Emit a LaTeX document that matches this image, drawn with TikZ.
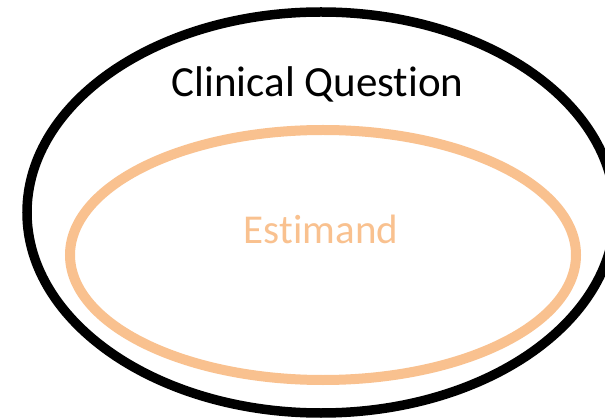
\documentclass[tikz,border=0pt]{standalone}
\usepackage{fontspec}
\setmainfont{Carlito}[RawFeature={-liga;-dlig;-clig}]
\definecolor{peach}{HTML}{F9C18F}
\tikzset{
  outerring/.style={draw=black,line width=9.5pt},
  innerring/.style={draw=peach,line width=10pt},
  lbl/.style={anchor=base,inner sep=0pt}
}
\begin{document}
\begin{tikzpicture}[x=1pt,y=1pt]
\useasboundingbox (0,0) rectangle (605,418);
\clip (0,0) rectangle (605,418);
\fill[white] (0,0) rectangle (605,418);
\draw[outerring] (321,205.5) ellipse [x radius=294, y radius=200.5];
\draw[innerring] (323,163) ellipse [x radius=253, y radius=125];
\node[lbl,text=black,font=\fontsize{43}{48}\selectfont] (cq) at (317.5,321) {Clinical Question};
\node[lbl,text=peach,font=\fontsize{41}{46}\selectfont] (est) at (321,174) {Estimand};
\end{tikzpicture}
\end{document}
